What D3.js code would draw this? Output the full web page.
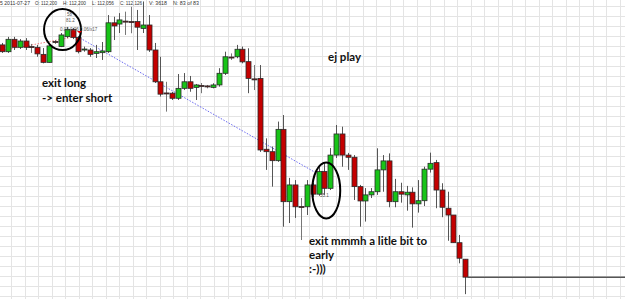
<!DOCTYPE html>
<html>
<head>
<meta charset="utf-8">
<script src="https://cdn.jsdelivr.net/npm/d3@7"></script>
<style>
  body { margin: 0; background: #fff; }
  svg { display: block; }
</style>
</head>
<body>
<script>
var width = 625,
    height = 299;

// bars 4..83 of 83, last bar 2011-07-27
var opens = [113.083, 113.055, 113.106, 113.073, 113.099, 113.076, 113.073, 113.044, 113.011, 113.097,
  113.076, 113.117, 113.147, 113.114, 113.062, 113.062, 113.048, 113.051, 113.055, 113.174,
  113.169, 113.181, 113.179, 113.179, 113.151, 113.165, 113.062, 112.931, 112.885, 112.884,
  112.863, 112.904, 112.931, 112.908, 112.916, 112.914, 112.908, 112.918, 112.966, 113.033,
  113.034, 113.065, 113.014, 112.943, 112.945, 112.653, 112.643, 112.606, 112.735, 112.437,
  112.506, 112.417, 112.416, 112.506, 112.468, 112.561, 112.492, 112.629, 112.716, 112.629,
  112.620, 112.499, 112.440, 112.465, 112.478, 112.568, 112.605, 112.437, 112.478, 112.465,
  112.476, 112.428, 112.441, 112.571, 112.598, 112.485, 112.410, 112.382, 112.268, 112.200];
var highs = [113.091, 113.116, 113.116, 113.107, 113.111, 113.087, 113.083, 113.070, 113.087, 113.103,
  113.132, 113.157, 113.153, 113.120, 113.076, 113.070, 113.083, 113.095, 113.206, 113.199,
  113.214, 113.220, 113.240, 113.227, 113.262, 113.206, 113.091, 113.034, 112.931, 112.889,
  112.963, 112.967, 112.955, 112.922, 112.926, 112.918, 112.925, 112.987, 113.055, 113.048,
  113.083, 113.076, 113.069, 113.000, 113.000, 112.698, 112.664, 112.767, 112.794, 112.535,
  112.526, 112.452, 112.526, 112.514, 112.588, 112.596, 112.658, 112.753, 112.746, 112.638,
  112.629, 112.506, 112.493, 112.493, 112.657, 112.629, 112.636, 112.531, 112.515, 112.502,
  112.496, 112.526, 112.581, 112.639, 112.609, 112.513, 112.478, 112.382, 112.300, 112.200];
var lows = [113.050, 113.050, 113.062, 113.066, 113.062, 113.050, 113.034, 113.007, 113.010, 113.087,
  113.074, 113.111, 113.107, 113.048, 113.055, 113.034, 113.029, 113.021, 113.050, 113.103,
  113.132, 113.124, 113.131, 113.062, 113.132, 113.054, 112.926, 112.870, 112.808, 112.856,
  112.856, 112.897, 112.890, 112.856, 112.884, 112.904, 112.904, 112.911, 112.959, 113.021,
  113.028, 113.007, 112.884, 112.897, 112.642, 112.568, 112.499, 112.601, 112.334, 112.349,
  112.370, 112.279, 112.382, 112.456, 112.461, 112.465, 112.485, 112.617, 112.581, 112.568,
  112.444, 112.334, 112.355, 112.452, 112.465, 112.478, 112.414, 112.414, 112.433, 112.400,
  112.330, 112.392, 112.419, 112.557, 112.410, 112.373, 112.276, 112.268, 112.183, 112.056];
var closes = [113.055, 113.106, 113.073, 113.099, 113.073, 113.074, 113.046, 113.011, 113.079, 113.095,
  113.124, 113.147, 113.114, 113.055, 113.066, 113.044, 113.055, 113.058, 113.174, 113.161,
  113.186, 113.179, 113.177, 113.156, 113.165, 113.062, 112.931, 112.880, 112.882, 112.863,
  112.904, 112.931, 112.904, 112.918, 112.914, 112.912, 112.918, 112.966, 113.034, 113.031,
  113.065, 113.013, 112.945, 112.941, 112.650, 112.643, 112.606, 112.735, 112.437, 112.506,
  112.416, 112.415, 112.506, 112.468, 112.561, 112.492, 112.629, 112.716, 112.629, 112.620,
  112.499, 112.440, 112.465, 112.478, 112.568, 112.605, 112.437, 112.478, 112.468, 112.476,
  112.428, 112.441, 112.571, 112.595, 112.485, 112.414, 112.382, 112.268, 112.204, 112.126];

// info line of the hovered (last) bar
var infoLabels = ["5 2011-07-27", "O: 112,200", "H: 112,200", "L: 112,056", "C: 112,126", "V: 3618", "N: 83 of 83"];

// drawn trade lines: [bar, price] -> [bar, price]
var longLine = [[0.5, 113.062], [12.25, 113.116]];
var shortLine = [[13.3, 113.111], [53.9, 112.551]];
// circled bars: [bar, price, rx, ry]
var marks = [[10.3, 113.146, 18.5, 20.5], [55.3, 112.483, 14, 28]];

var green = "#18c418", red = "#c40000";

var svg = d3.select("body").append("svg").attr("width", width).attr("height", height);

var x = d3.scaleLinear().domain([0, opens.length - 1]).range([2.2, 465.1]);
var y = d3.scaleLinear().domain([112.036, 113.268]).range([299, 0]);

// background grid
var grid = svg.append("g").attr("stroke", "#e4e4e4").attr("stroke-width", 1);
grid.selectAll(".v").data(d3.range(11.1, width, 13.525)).enter().append("line")
  .attr("x1", d => Math.round(d) + 0.5).attr("x2", d => Math.round(d) + 0.5)
  .attr("y1", 0).attr("y2", height);
grid.selectAll(".h").data(d3.range(6, height, 10)).enter().append("line")
  .attr("x1", 0).attr("x2", width)
  .attr("y1", d => d + 0.5).attr("y2", d => d + 0.5);

var bars = opens.map(function (o, i) {
  return {i: i, o: o, h: highs[i], l: lows[i], c: closes[i]};
});

var line = d3.line().x(d => x(d[0])).y(d => y(d[1]));

svg.append("path").datum(longLine).attr("d", line)
  .attr("fill", "none").attr("stroke", "#f08080").attr("stroke-width", 1).attr("stroke-dasharray", "1.5,1.5");
svg.append("path").datum(shortLine).attr("d", line)
  .attr("fill", "none").attr("stroke", "#6a6af0").attr("stroke-width", 1).attr("stroke-dasharray", "1.5,1.5");

var candle = svg.append("g").selectAll("g").data(bars).enter().append("g");

candle.append("line")
  .attr("x1", d => Math.round(x(d.i)) + 0.5).attr("x2", d => Math.round(x(d.i)) + 0.5)
  .attr("y1", d => y(d.h)).attr("y2", d => y(d.l))
  .attr("stroke", d => Math.abs(d.c - d.o) < 0.004 ? "#777" : "#555").attr("stroke-width", 1);

candle.append("rect")
  .attr("x", d => Math.round(x(d.i)) - 2)
  .attr("width", 5)
  .attr("y", d => y(Math.max(d.o, d.c)))
  .attr("height", d => Math.max(1, y(Math.min(d.o, d.c)) - y(Math.max(d.o, d.c))))
  .attr("fill", d => d.c >= d.o ? green : red)
  .attr("stroke", "#2a2a2a").attr("stroke-width", 0.8);

// last price line
svg.append("line")
  .attr("x1", x(opens.length - 1) + 2.5).attr("x2", width)
  .attr("y1", y(closes[closes.length - 1])).attr("y2", y(closes[closes.length - 1]))
  .attr("stroke", "#555").attr("stroke-width", 1.5);

// circles drawn by hand
svg.selectAll(".mark").data(marks).enter().append("ellipse")
  .attr("cx", d => x(d[0])).attr("cy", d => y(d[1]))
  .attr("rx", d => d[2]).attr("ry", d => d[3])
  .attr("fill", "none").attr("stroke", "#000").attr("stroke-width", 2);

// tiny chart labels inside the circles
var tiny = svg.append("g").attr("font-family", "Liberation Sans, Arial, sans-serif")
  .attr("font-size", 4.5).attr("fill", "#555");
tiny.append("text").attr("x", 67).attr("y", 16).text("58");
tiny.append("text").attr("x", 66).attr("y", 22).text("81.2");
tiny.append("text").attr("x", 60).attr("y", 30.5).text("0.03  0.06  0.06/x17");
tiny.append("text").attr("x", 320).attr("y", 197).text("55.1");
svg.append("path").attr("d", "M77,31 L82,31 L79.5,33.5 Z").attr("fill", "#e00000");

// info line
var info = svg.append("g").attr("font-family", "Liberation Sans, Arial, sans-serif")
  .attr("font-size", 6).attr("fill", "#333");
var infoX = [0, 35, 63, 92, 120, 149, 173];
var infoW = [30, 22, 23, 22, 22, 18, 26];
info.selectAll("text").data(infoLabels).enter().append("text")
  .attr("x", (d, i) => infoX[i]).attr("y", 5)
  .attr("textLength", (d, i) => infoW[i]).attr("lengthAdjust", "spacingAndGlyphs")
  .text(d => d);

// notes
var notes = svg.append("g").attr("font-family", "Lato, 'Open Sans', sans-serif")
  .attr("font-weight", "bold").attr("font-size", 11.5).attr("fill", "#111");
notes.append("text").attr("x", 328).attr("y", 61).text("ej play");
notes.append("text").attr("x", 42).attr("y", 87).text("exit long");
notes.append("text").attr("x", 42).attr("y", 102).text("-> enter short");
notes.append("text").attr("x", 309).attr("y", 245).text("exit mmmh a litle bit to");
notes.append("text").attr("x", 309).attr("y", 259).text("early");
notes.append("text").attr("x", 309).attr("y", 273).text(":-)))");
</script>
</body>
</html>
